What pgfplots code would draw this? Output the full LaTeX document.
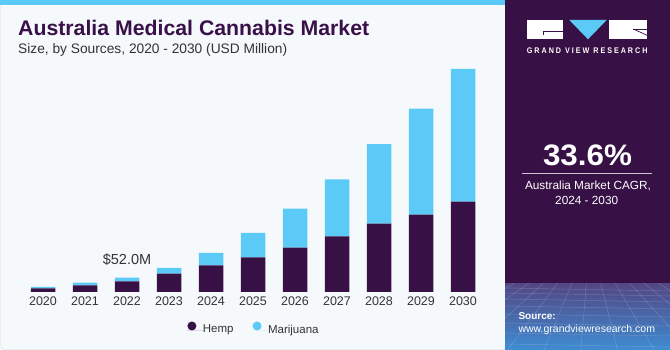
\documentclass[border=0pt]{standalone}
\usepackage{pgfplots}
\pgfplotsset{compat=1.18}
\usepackage{pgfplotstable}
\usepackage{fontspec}
\setmainfont{Liberation Sans}
\usetikzlibrary{shadings}
\definecolor{hemp}{HTML}{371046}
\definecolor{mari}{HTML}{5CCAF6}
\definecolor{panel}{HTML}{371045}
\definecolor{bg}{HTML}{F5F9FC}
\definecolor{txt}{HTML}{333333}
\definecolor{titlec}{HTML}{3A1049}
\definecolor{bandtop}{HTML}{524784}
\definecolor{bandbot}{HTML}{3F8CD2}
\pgfplotstableread{
year hemp marijuana
2020 13.1 5.1
2021 24.0 9.8
2022 38.5 13.5
2023 66.5 20.8
2024 96.7 45.1
2025 125.8 88.7
2026 161.0 142.0
2027 202.0 207.0
2028 249.0 289.0
2029 281.0 386.0
2030 329.0 482.0
}\data
\begin{document}
\begin{tikzpicture}[x=1pt,y=1pt]
\path[use as bounding box] (0,0) rectangle (670,350);
\fill[white] (0,0) rectangle (670,350);
% left panel
\filldraw[fill=bg, draw=black!18, rounded corners=3pt] (0.7,0.7) rectangle (506,349);
\fill[mari] (0,345) rectangle (506,350);
% right panel
\fill[panel] (505,0) rectangle (670,350);
\shade[top color=bandtop, bottom color=bandbot] (505,0) rectangle (670,66.7);
\begin{scope}
\clip (505,0) rectangle (670,66.7);
\foreach \yy in {62,57,51,44,36,27,17,6} {\draw[white, opacity=0.18, line width=0.5pt] (505,\yy) -- (670,\yy-3);}
\foreach \xx in {380,420,460,500,540,580,620,660,700,740,780,820} {\draw[white, opacity=0.18, line width=0.5pt] (590,110) -- (\xx,-10);}
\end{scope}
% titles
\node[anchor=base west, inner sep=0, text=titlec] at (18,314) {\resizebox{351pt}{15.3pt}{\bfseries Australia Medical Cannabis Market}};
\node[anchor=base west, inner sep=0, text=txt] at (18,296.5) {\resizebox{269pt}{!}{\fontsize{13.7}{15}\selectfont Size, by Sources, 2020 - 2030 (USD Million)}};
% logo
\fill[white] (526.7,310.7) rectangle (563.3,330);
\draw[panel, line width=0.7pt] (543,315) -- (543,318.3) -- (563.5,318.3);
\fill[mari] (569.3,330) -- (606.7,330) -- (588,310.7) -- cycle;
\fill[white] (609.3,310.7) rectangle (647.3,330);
\draw[panel, line width=0.7pt] (633.3,321) -- (647.5,314.5);
\draw[panel, line width=0.7pt] (633.3,321) -- (647.5,321);
\node[anchor=base west, inner sep=0, text=white] at (526.7,296) {\resizebox{120.6pt}{5.7pt}{\bfseries G R A N D\ \ V I E W\ \ R E S E A R C H}};
\node[anchor=base, inner sep=0, text=white] at (587.5,184.5) {\resizebox{89pt}{20.7pt}{\bfseries 33.6\%}};
\draw[white!75!panel, line width=0.8pt] (522,176.7) -- (652,176.7);
\node[anchor=base, inner sep=0, text=white, font=\fontsize{11.8}{13}\selectfont] at (588,160) {Australia Market CAGR,};
\node[anchor=base, inner sep=0, text=white, font=\fontsize{11.8}{13}\selectfont] at (586.7,145.7) {2024 - 2030};
\node[anchor=base west, inner sep=0, text=white, font=\fontsize{10}{12}\selectfont\bfseries] at (518.3,30.7) {Source:};
\node[anchor=base west, inner sep=0, text=white, font=\fontsize{10.5}{12}\selectfont] at (518.3,17.3) {www.grandviewresearch.com};
% chart
\begin{axis}[
  at={(22pt,58pt)}, anchor=south west,
  scale only axis, width=462pt, height=233.8pt,
  xmin=2019.5, xmax=2030.5, ymin=0, ymax=850,
  enlargelimits=false,
  ybar stacked, bar width=24.5pt,
  axis line style={draw=none},
  ytick=\empty,
  xtick=data,
  major tick length=0pt,
  /pgf/number format/assume math mode=true,
  /pgf/number format/1000 sep={},
  xticklabel style={font=\fontsize{12.5}{14}\selectfont, text=txt, anchor=base, yshift=-14pt, inner sep=0pt},
  legend columns=2,
  legend style={at={(axis description cs:0.5,-0.154)}, anchor=center, draw=none, fill=none,
    font=\fontsize{11.5}{13}\selectfont, text=txt, inner sep=0pt, outer sep=0pt,
    nodes={inner sep=0pt, outer sep=0pt},
    /tikz/every odd column/.append style={column sep=0pt},
    /tikz/every even column/.append style={column sep=19pt}},
  legend image code/.code={\path (-4.5pt,0pt) rectangle (11pt,0pt); \fill[#1] (0pt,0.36em) circle[radius=4.5pt];},
]
\addplot[fill=hemp, draw=none] table[x=year, y=hemp] {\data};
\addplot[fill=mari, draw=none] table[x=year, y=marijuana] {\data};
\legend{Hemp, Marijuana}
\node[anchor=base, inner sep=0, text=txt, font=\fontsize{14.5}{16}\selectfont] at (axis cs:2022,52) [yshift=13pt] {\$52.0M};
\end{axis}
\end{tikzpicture}
\end{document}
